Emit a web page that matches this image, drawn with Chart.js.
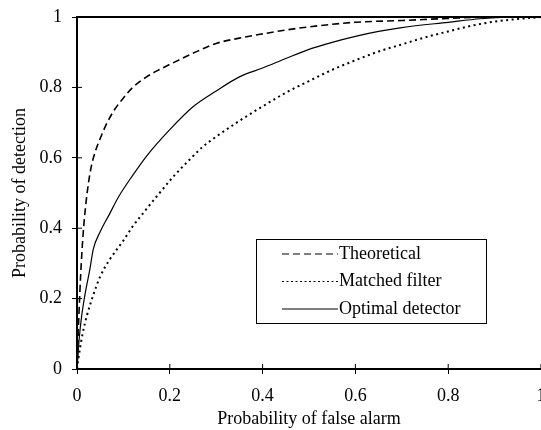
<!DOCTYPE html>
<html>
<head>
<meta charset="utf-8">
<script src="https://cdn.jsdelivr.net/npm/chart.js@4/dist/chart.umd.min.js"></script>
<style>
  html, body { margin: 0; padding: 0; background: #fff; overflow: hidden; }
  #wrap { width: 541px; height: 430px; }
</style>
</head>
<body>
<div id="wrap"><canvas id="roc" width="541" height="430"></canvas></div>
<script>
// ROC curves: probability of detection vs probability of false alarm
const seriesNames = ['Theoretical', 'Matched filter', 'Optimal detector'];

const theoreticalPfa = [0, 0.004, 0.008, 0.013, 0.02, 0.03, 0.04, 0.05, 0.065, 0.08, 0.1, 0.12, 0.15, 0.18, 0.22, 0.26, 0.3, 0.35, 0.4, 0.45, 0.5, 0.6, 0.7, 0.8, 0.9, 1];
const theoreticalPd  = [0, 0.15, 0.27, 0.38, 0.48, 0.57, 0.62, 0.655, 0.70, 0.735, 0.77, 0.80, 0.83, 0.852, 0.878, 0.903, 0.925, 0.94, 0.952, 0.963, 0.972, 0.985, 0.99, 0.996, 1, 1];

const matchedPfa = [0, 0.003, 0.006, 0.012, 0.021, 0.035, 0.05, 0.07, 0.086, 0.1, 0.12, 0.15, 0.178, 0.21, 0.243, 0.27, 0.3, 0.35, 0.4, 0.45, 0.5, 0.55, 0.6, 0.65, 0.7, 0.75, 0.8, 0.85, 0.9, 0.94, 1];
const matchedPd  = [0, 0.03, 0.055, 0.1, 0.15, 0.21, 0.263, 0.31, 0.34, 0.365, 0.405, 0.455, 0.50, 0.55, 0.595, 0.63, 0.66, 0.705, 0.746, 0.785, 0.818, 0.85, 0.877, 0.902, 0.922, 0.942, 0.959, 0.975, 0.987, 0.993, 1];

const optimalPfa = [0, 0.005, 0.01, 0.017, 0.028, 0.035, 0.05, 0.07, 0.09, 0.12, 0.15, 0.2, 0.25, 0.3, 0.35, 0.4, 0.45, 0.5, 0.55, 0.6, 0.65, 0.7, 0.8, 0.87, 0.95, 1];
const optimalPd  = [0, 0.09, 0.15, 0.21, 0.285, 0.34, 0.39, 0.44, 0.49, 0.55, 0.605, 0.68, 0.745, 0.79, 0.83, 0.855, 0.882, 0.908, 0.928, 0.945, 0.959, 0.97, 0.985, 0.995, 1, 1];

const axisTicks = [0, 0.2, 0.4, 0.6, 0.8, 1];

const toPoints = (xs, ys) => xs.map((x, i) => ({ x: x, y: ys[i] }));
const tickText = v => String(+Number(v).toFixed(1));

const serifStack = '"Liberation Serif", "Times New Roman", serif';
Chart.defaults.font.family = serifStack;
Chart.defaults.font.size = 18;
Chart.defaults.color = '#000';

// tick marks that cross the axis line, plus the frame line along the top
const axisDecor = {
  id: 'axisDecor',
  afterDraw(chart) {
    const { ctx, chartArea, scales } = chart;
    ctx.save();
    ctx.strokeStyle = '#000';
    ctx.lineWidth = 1;
    ctx.beginPath();
    scales.x.ticks.forEach(t => {
      const px = scales.x.getPixelForValue(t.value);
      ctx.moveTo(px, chartArea.bottom);
      ctx.lineTo(px, chartArea.bottom - 5);
    });
    scales.y.ticks.forEach(t => {
      const py = scales.y.getPixelForValue(t.value);
      ctx.moveTo(chartArea.left, py);
      ctx.lineTo(chartArea.left + 5, py);
    });
    ctx.stroke();
    ctx.lineWidth = 2;
    ctx.beginPath();
    ctx.moveTo(chartArea.left, chartArea.top);
    ctx.lineTo(chartArea.right, chartArea.top);
    ctx.stroke();
    ctx.restore();
  }
};

// boxed legend inside the plot
const boxedLegend = {
  id: 'boxedLegend',
  afterDraw(chart) {
    const { ctx } = chart;
    const box = { left: 256.5, top: 239.5, right: 486.5, bottom: 323.5 };
    ctx.save();
    ctx.fillStyle = '#fff';
    ctx.fillRect(box.left, box.top, box.right - box.left, box.bottom - box.top);
    ctx.strokeStyle = '#000';
    ctx.lineWidth = 1;
    ctx.strokeRect(box.left, box.top, box.right - box.left, box.bottom - box.top);
    ctx.font = '18px ' + serifStack;
    ctx.textBaseline = 'middle';
    ctx.textAlign = 'left';
    ctx.fillStyle = '#000';
    chart.data.datasets.forEach((ds, i) => {
      const y = 254 + i * 27.5;
      ctx.beginPath();
      ctx.setLineDash(ds.legendDash);
      ctx.lineWidth = 1.2;
      ctx.moveTo(282, y);
      ctx.lineTo(338, y);
      ctx.stroke();
      ctx.setLineDash([]);
      ctx.fillText(ds.label, 339, y);
    });
    ctx.restore();
  }
};

new Chart(document.getElementById('roc'), {
  type: 'line',
  data: {
    datasets: [
      {
        label: seriesNames[0],
        data: toPoints(theoreticalPfa, theoreticalPd),
        borderColor: '#000',
        borderWidth: 1.6,
        borderDash: [7, 4],
        legendDash: [7, 4]
      },
      {
        label: seriesNames[1],
        data: toPoints(matchedPfa, matchedPd),
        borderColor: '#000',
        borderWidth: 2,
        borderDash: [2, 3.5],
        legendDash: [2, 2.5]
      },
      {
        label: seriesNames[2],
        data: toPoints(optimalPfa, optimalPd),
        borderColor: '#000',
        borderWidth: 1.2,
        borderDash: [],
        legendDash: []
      }
    ]
  },
  options: {
    responsive: false,
    animation: false,
    layout: { padding: { top: 17, right: -1, left: 0, bottom: 0 } },
    elements: {
      point: { radius: 0 },
      line: { cubicInterpolationMode: 'monotone', fill: false }
    },
    plugins: { legend: { display: false }, tooltip: { enabled: false } },
    scales: {
      x: {
        type: 'linear',
        min: 0, max: 1,
        afterBuildTicks: s => { s.ticks = axisTicks.map(v => ({ value: v })); },
        afterFit: s => { s.height = 61; s.paddingLeft = 0; s.paddingRight = 0; },
        ticks: { padding: 11, maxRotation: 0, autoSkip: false, callback: tickText },
        grid: { drawOnChartArea: false, drawTicks: true, tickLength: 5, color: '#000', lineWidth: 1 },
        border: { display: true, color: '#000', width: 2 },
        title: { display: true, text: 'Probability of false alarm', padding: { top: 0, bottom: 0 } }
      },
      y: {
        min: 0, max: 1,
        afterBuildTicks: s => { s.ticks = axisTicks.map(v => ({ value: v })); },
        afterFit: s => { s.width = 77; s.paddingTop = 0; s.paddingBottom = 0; },
        ticks: { padding: 10, autoSkip: false, callback: tickText },
        grid: { drawOnChartArea: false, drawTicks: true, tickLength: 5, color: '#000', lineWidth: 1 },
        border: { display: true, color: '#000', width: 2 },
        title: { display: true, text: 'Probability of detection', padding: { top: 9, bottom: 0 } }
      }
    }
  },
  plugins: [axisDecor, boxedLegend]
});
</script>
</body>
</html>
